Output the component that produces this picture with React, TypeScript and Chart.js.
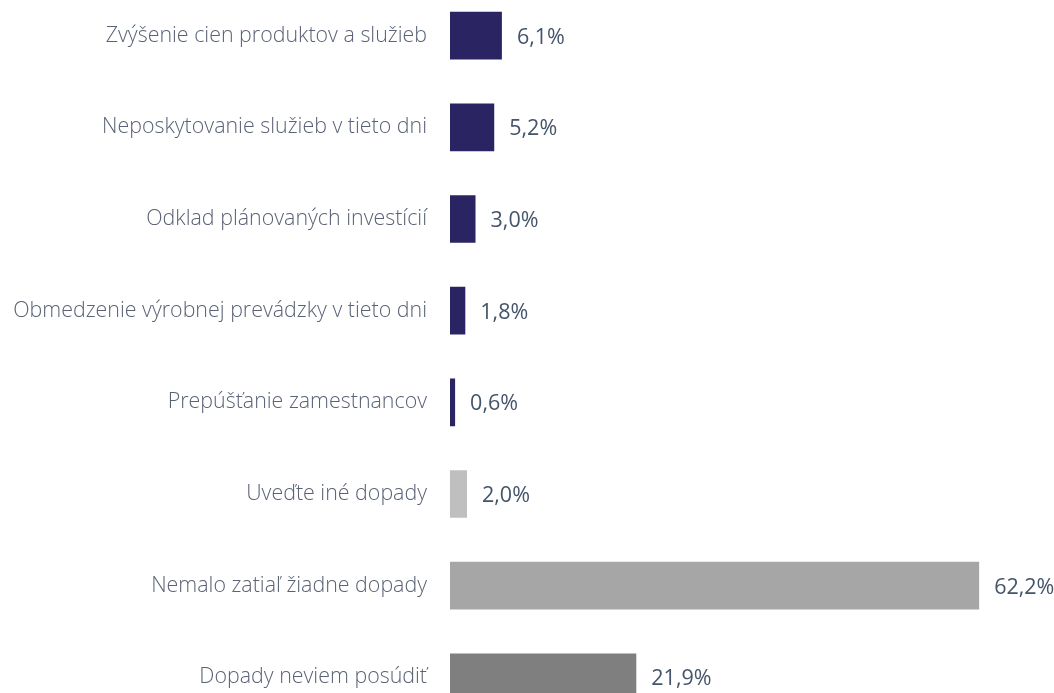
import React, { useEffect, useRef } from "react";
import { Chart, registerables } from "chart.js";

Chart.register(...registerables);

const categories = [
  "Zvýšenie cien produktov a služieb",
  "Neposkytovanie služieb v tieto dni",
  "Odklad plánovaných investícií",
  "Obmedzenie výrobnej prevádzky v tieto dni",
  "Prepúšťanie zamestnancov",
  "Uveďte iné dopady",
  "Nemalo zatiaľ žiadne dopady",
  "Dopady neviem posúdiť",
];
const values = [6.1, 5.2, 3.0, 1.8, 0.6, 2.0, 62.2, 21.9];
const barColors = [
  "#2A2462",
  "#2A2462",
  "#2A2462",
  "#2A2462",
  "#2A2462",
  "#BFBFBF",
  "#A6A6A6",
  "#7F7F7F",
];

const valueLabelPlugin = {
  id: "valueLabels",
  afterDatasetsDraw(chart: any) {
    const ctx = chart.ctx;
    const meta = chart.getDatasetMeta(0);
    ctx.save();
    ctx.font = "400 21.5px 'Open Sans'";
    ctx.fillStyle = "#44546A";
    ctx.textAlign = "left";
    ctx.textBaseline = "middle";
    meta.data.forEach((bar: any, i: number) => {
      const txt = values[i].toFixed(1).replace(".", ",") + "%";
      ctx.fillText(txt, bar.x + 15, bar.y + 2);
    });
    ctx.restore();
  },
};

export default function App() {
  const ref = useRef<HTMLCanvasElement>(null);
  useEffect(() => {
    if (!ref.current) return;
    const chart = new Chart(ref.current, {
      type: "bar",
      data: {
        labels: categories,
        datasets: [
          {
            data: values,
            backgroundColor: barColors,
            borderWidth: 0,
            categoryPercentage: 1,
            barPercentage: 0.52,
          },
        ],
      },
      options: {
        indexAxis: "y",
        animation: false,
        responsive: false,
        layout: { padding: 0 },
        plugins: {
          legend: { display: false },
          tooltip: { enabled: false },
        },
        scales: {
          x: {
            display: false,
            min: 0,
            max: 71,
          },
          y: {
            grid: { display: false, drawTicks: false },
            border: { display: false },
            ticks: {
              padding: 23,
              color: "#5A6275",
              font: { family: "'Open Sans'", size: 21.4, weight: 300 },
            },
            afterFit: (scale: any) => {
              scale.width = 450;
            },
          },
        },
      },
      plugins: [valueLabelPlugin],
    });
    return () => chart.destroy();
  }, []);
  return (
    <div
      style={{
        position: "fixed",
        left: 0,
        top: 0,
        width: 1054,
        height: 693,
        overflow: "hidden",
        background: "#fff",
      }}
    >
      <canvas
        ref={ref}
        width={1054}
        height={805}
        style={{ position: "absolute", left: 0, top: -46, width: 1054, height: 805 }}
      />
    </div>
  );
}
